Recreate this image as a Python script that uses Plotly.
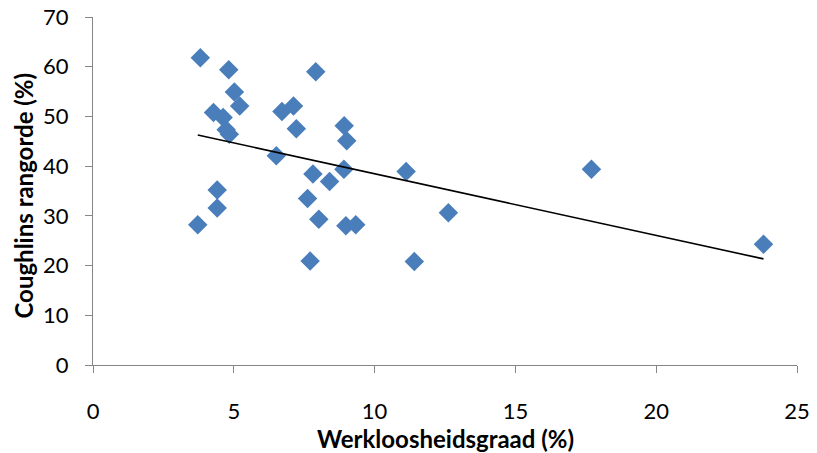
import numpy as np
import plotly.graph_objects as go

werkloosheid = [3.81, 4.82, 7.91, 5.02, 5.21, 4.28, 4.62, 4.73, 4.84, 7.12,
                6.71, 7.22, 8.92, 9.01, 6.51, 7.81, 8.40, 8.91, 11.12, 17.70,
                4.41, 4.41, 7.62, 8.02, 3.72, 8.98, 9.33, 12.62, 7.71, 11.41, 23.81]
rangorde = [61.8, 59.4, 59.0, 54.9, 52.1, 50.8, 49.8, 47.3, 46.4, 52.1,
            51.0, 47.5, 48.1, 45.1, 42.1, 38.4, 36.9, 39.4, 38.9, 39.4,
            35.2, 31.6, 33.5, 29.3, 28.2, 28.0, 28.2, 30.6, 20.9, 20.8, 24.3]

x_ticks = [0, 5, 10, 15, 20, 25]
y_ticks = [0, 10, 20, 30, 40, 50, 60, 70]

xa = np.array(werkloosheid)
ya = np.array(rangorde)
slope, intercept = np.polyfit(xa, ya, 1)
trend_x = [xa.min(), xa.max()]
trend_y = [slope * v + intercept for v in trend_x]

fig = go.Figure()
fig.add_trace(go.Scatter(
    x=werkloosheid, y=rangorde, mode="markers",
    marker=dict(symbol="diamond", size=15, color="#4a7ebb",
                line=dict(width=0)),
    showlegend=False, cliponaxis=False))
fig.add_trace(go.Scatter(
    x=trend_x, y=trend_y, mode="lines",
    line=dict(color="black", width=1.6), showlegend=False))

axis_common = dict(showgrid=False, zeroline=False, showline=True,
                   linecolor="#868686", linewidth=1.3, ticks="outside",
                   ticklen=7, tickcolor="#868686", tickwidth=1.3,
                   automargin=False, ticklabeloverflow="allow",
                   tickfont=dict(family="Lato", size=22, color="black"))

fig.update_layout(
    width=809, height=445,
    margin=dict(l=84.5, r=19.5, t=9, b=88),
    paper_bgcolor="white", plot_bgcolor="white",
    xaxis=dict(range=[0, 25], tickvals=x_ticks, ticklabelstandoff=19,
               **axis_common),
    yaxis=dict(range=[0, 70], tickvals=y_ticks, ticklabelstandoff=12,
               **axis_common),
    annotations=[
        dict(text="<b>Werkloosheidsgraad (%)</b>", xref="paper", yref="paper",
             x=0.5, y=0, yshift=-73, xanchor="center", yanchor="middle",
             showarrow=False, font=dict(family="Lato", size=24, color="black")),
        dict(text="<b>Coughlins rangorde (%)</b>", xref="paper", yref="paper",
             x=0, y=0.5, xshift=-70.5, yshift=-5, xanchor="center", yanchor="middle",
             textangle=-90, showarrow=False,
             font=dict(family="Lato", size=24, color="black")),
    ],
)

fig.write_html("out.html")
